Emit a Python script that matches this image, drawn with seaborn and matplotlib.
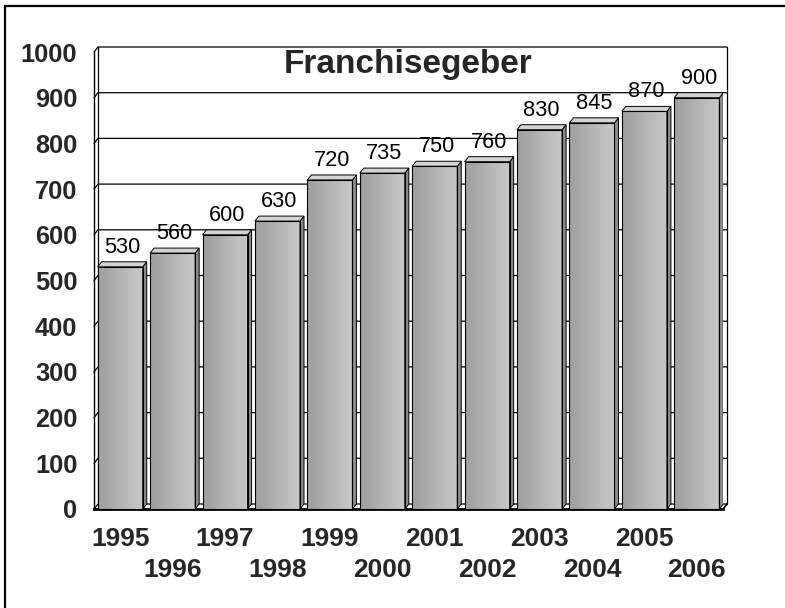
import matplotlib
matplotlib.use("Agg")
import matplotlib.pyplot as plt
import matplotlib.transforms as mtransforms
import seaborn as sns
import numpy as np
from matplotlib.patches import Polygon, Rectangle
from matplotlib.colors import LinearSegmentedColormap

years = ["1995", "1996", "1997", "1998", "1999", "2000",
         "2001", "2002", "2003", "2004", "2005", "2006"]
values = [530, 560, 600, 630, 720, 735, 750, 760, 830, 845, 870, 900]
yticks = [0, 100, 200, 300, 400, 500, 600, 700, 800, 900, 1000]
title = "Franchisegeber"

sns.set_style("white")
plt.rcParams['font.family'] = ['Liberation Sans', 'DejaVu Sans']

W, H = 785, 608
fig = plt.figure(figsize=(W / 100, H / 100), dpi=100)
fig.patch.set_facecolor("white")
ax = fig.add_axes([94 / W, 1 - 509 / H, (723 - 94) / W, (509 - 52) / H])
ax.set_facecolor("none")

sns.barplot(x=years, y=values, color="#b4b4b4", width=0.86, saturation=1,
            errorbar=None, ax=ax, zorder=3)

ax.set_xlim(-0.5, len(years) - 0.5)
ax.set_ylim(0, 1000)

# depth offset of 3D effect (4 px right, 5 px up) expressed in data units
dx = 4 / (ax.bbox.width / len(years))
dy = 5 / (ax.bbox.height / 1000)
x0l, x1l = ax.get_xlim()

# back-wall gridlines
for yv in yticks:
    ax.plot([x0l, x0l + dx, x1l + dx], [yv, yv + dy, yv + dy],
            color="black", lw=0.9, zorder=1, clip_on=False)
# wall edges
ax.plot([x0l + dx, x0l + dx], [dy, 1000 + dy], color="black", lw=0.9, zorder=1, clip_on=False)
ax.plot([x1l + dx, x1l + dx], [dy, 1000 + dy], color="black", lw=0.9, zorder=1, clip_on=False)
ax.plot([x1l, x1l + dx], [0, dy], color="black", lw=1.2, zorder=1, clip_on=False)

cmap = LinearSegmentedColormap.from_list("bar", ["#9e9e9e", "#b4b4b4", "#c8c8c8"])
grad = np.linspace(0, 1, 64).reshape(1, -1)

for p, v in zip(list(ax.patches), values):
    x0 = p.get_x()
    w = p.get_width()
    x1 = x0 + w
    h = p.get_height()
    p.set_facecolor("none")
    p.set_edgecolor("black")
    p.set_linewidth(0.8)
    p.set_zorder(4)
    im = ax.imshow(grad, extent=[x0, x1, 0, h], aspect="auto", cmap=cmap,
                   zorder=3, interpolation="bilinear")
    im.set_clip_path(p)
    side = Polygon([(x1, 0), (x1 + dx, dy), (x1 + dx, h + dy), (x1, h)],
                   closed=True, facecolor="#8c8c8c", edgecolor="black", lw=0.7, zorder=3.5)
    top = Polygon([(x0, h), (x1, h), (x1 + dx, h + dy), (x0 + dx, h + dy)],
                  closed=True, facecolor="#d4d4d4", edgecolor="black", lw=0.7, zorder=3.5)
    ax.add_patch(side)
    ax.add_patch(top)
    ax.annotate(str(v), (x0 + w / 2 + dx / 2, h + dy), xytext=(0, 6.5),
                textcoords="offset points", ha="center", va="baseline",
                fontsize=15.7, color="black", zorder=5)

ax.set_xlim(x0l, x1l)
ax.set_ylim(0, 1000)

ax.set_yticks(yticks)
ax.set_yticklabels([str(t) for t in yticks], fontsize=18.3, fontweight="bold")
ax.set_xticks(range(len(years)))
ax.set_xticklabels(years, fontsize=19, fontweight="bold")
ax.tick_params(axis="y", length=0, pad=12.0)
ax.tick_params(axis="x", length=0, pad=13)
ax.set_xlabel("")
ax.set_ylabel("")

# stagger every second year label onto a second row
shift = mtransforms.ScaledTranslation(0, -31 / 100, fig.dpi_scale_trans)
for i, lab in enumerate(ax.get_xticklabels()):
    if i % 2 == 1:
        lab.set_transform(lab.get_transform() + shift)

for s in ["top", "right"]:
    ax.spines[s].set_visible(False)
ax.spines["left"].set_color("black")
ax.spines["left"].set_linewidth(1.0)
ax.spines["bottom"].set_color("black")
ax.spines["bottom"].set_linewidth(2.0)

ax.set_title(title, y=0.954, pad=0, fontsize=24, fontweight="bold", va="baseline")

# outer frame (cropped on right and bottom)
frame = Rectangle((5 / W, -0.05), 2, 1 - 6 / H + 0.05, transform=fig.transFigure,
                  fill=False, edgecolor="black", lw=1.6, clip_on=False)
fig.patches.append(frame)

fig.savefig("out.png", dpi=100)
